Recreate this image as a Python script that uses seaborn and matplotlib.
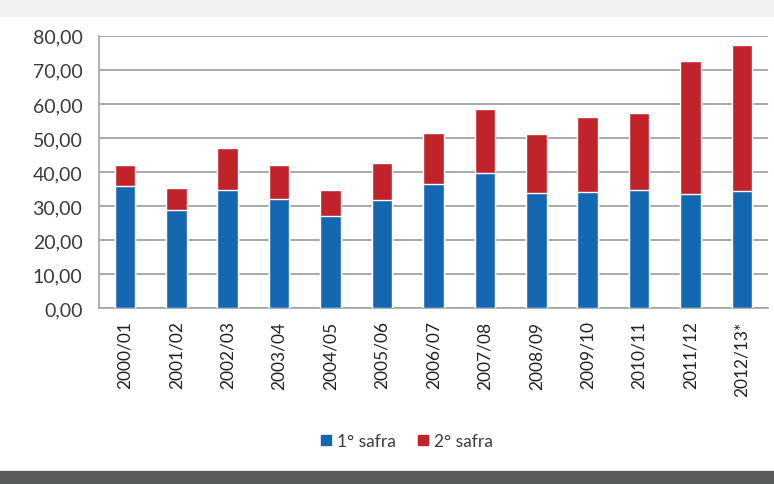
import matplotlib
matplotlib.use("Agg")
import matplotlib.pyplot as plt
import matplotlib.patches as mpatches
from matplotlib.lines import Line2D
import seaborn as sns
import pandas as pd

# dados das safras
safras = ["2000/01", "2001/02", "2002/03", "2003/04", "2004/05", "2005/06", "2006/07",
          "2007/08", "2008/09", "2009/10", "2010/11", "2011/12", "2012/13*"]
primeira = [36.0, 28.8, 34.8, 31.9, 26.9, 31.6, 36.5, 39.7, 33.7, 34.2, 34.6, 33.5, 34.5]
segunda = [6.1, 6.4, 12.3, 10.2, 7.9, 10.9, 14.9, 18.7, 17.3, 21.8, 22.6, 39.2, 42.9]
y_ticks = [0, 10, 20, 30, 40, 50, 60, 70, 80]

azul = "#1468b2"
vermelho = "#c0232a"
cinza = "#a3a3a3"
texto = "#3b3b3b"

df = pd.DataFrame({"safra": safras, "primeira": primeira, "segunda": segunda})
df["total"] = df["primeira"] + df["segunda"]

sns.set_style("white")
plt.rcParams["font.family"] = ["Lato", "DejaVu Sans"]

fig = plt.figure(figsize=(7.74, 4.85), dpi=100)
ax = fig.add_axes([0.128, 0.363, 0.864, 0.561])

# pilha: total em vermelho, 1ª safra em azul por cima
sns.barplot(data=df, x="safra", y="total", color=vermelho, width=0.4,
            saturation=1, ax=ax, zorder=3)
sns.barplot(data=df, x="safra", y="primeira", color=azul, width=0.4,
            saturation=1, ax=ax, zorder=4)

ax.set_xlim(-0.5, len(safras) - 0.5)
ax.set_ylim(0, 80)
ax.set_yticks(y_ticks)
ax.set_yticklabels([f"{v:.2f}".replace(".", ",") for v in y_ticks],
                   fontsize=14, color=texto)
ax.set_xticks(range(len(safras)))
ax.set_xticklabels(safras, rotation=90, fontsize=12.5, color="#222222")
ax.set_xticks([i - 0.5 for i in range(len(safras) + 1)], minor=True)
ax.tick_params(axis="x", which="major", length=0, pad=9)
ax.tick_params(axis="x", which="minor", length=5, color=cinza, width=1.2)
ax.tick_params(axis="y", length=7, color=cinza, width=1.2, pad=5)
ax.grid(axis="y", color=cinza, linewidth=1.3, zorder=0)
ax.set_xlabel("")
ax.set_ylabel("")
for s in ["top", "right"]:
    ax.spines[s].set_visible(False)
for s in ["left", "bottom"]:
    ax.spines[s].set_color(cinza)
    ax.spines[s].set_linewidth(1.2)

handles = [Line2D([], [], marker="s", linestyle="", color=azul, markersize=7),
           Line2D([], [], marker="s", linestyle="", color=vermelho, markersize=7)]
fig.legend(handles, ["1° safra", "2° safra"], loc="center", bbox_to_anchor=(0.525, 0.088),
           ncol=2, frameon=False, fontsize=12.5, handlelength=0.7, handletextpad=0.3,
           columnspacing=1.2, labelcolor=texto)

# moldura da página
fig.patches.append(mpatches.Rectangle((0, 0.965), 1, 0.035, transform=fig.transFigure,
                                      color="#f2f2f2", zorder=0))
fig.patches.append(mpatches.Rectangle((0, 0), 1, 0.026, transform=fig.transFigure,
                                      color="#595d59", zorder=0))

fig.savefig("out.png", dpi=100)
